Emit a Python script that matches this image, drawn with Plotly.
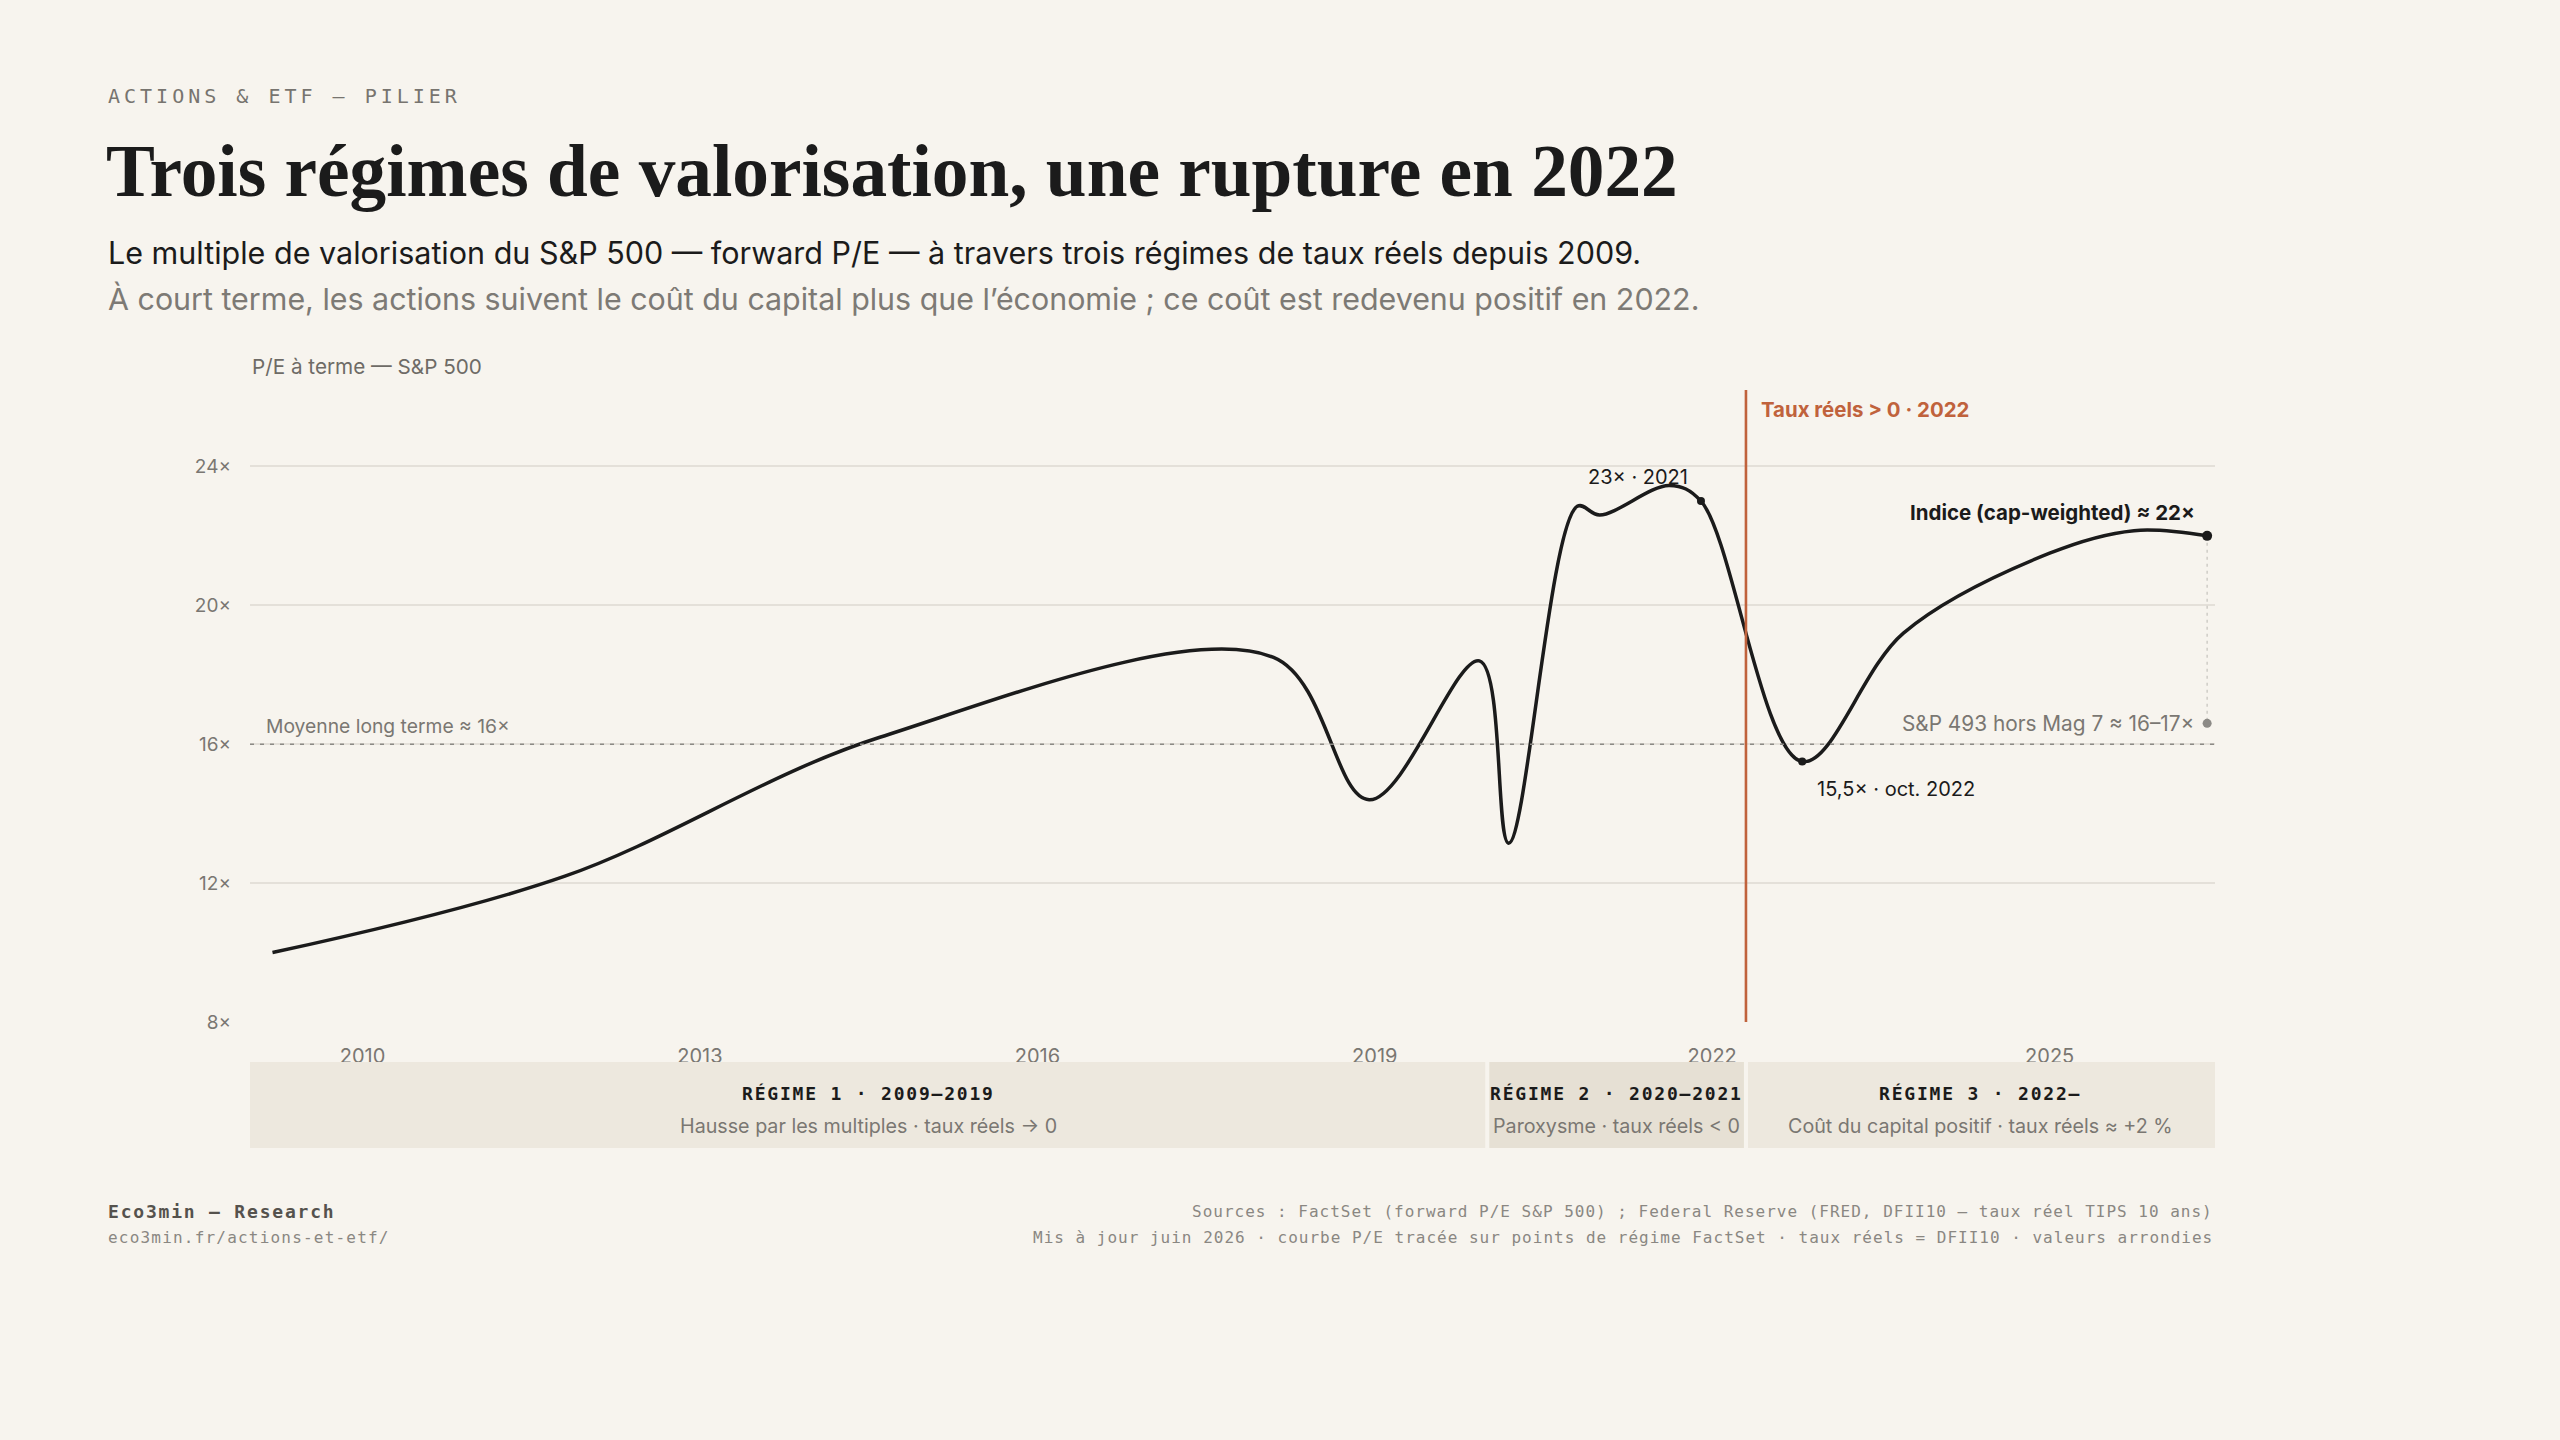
import plotly.graph_objects as go

# ---------------- data ----------------
years = [2009.2, 2011.8, 2014.6, 2018.1, 2018.95, 2019.93, 2020.19, 2020.8, 2021.0,
         2021.62, 2021.9, 2022.8, 2023.7, 2025.0, 2025.75, 2026.4]
pe = [10.0, 12.2, 16.2, 18.5, 14.4, 18.4, 13.15, 22.85, 22.6,
      23.45, 23.0, 15.5, 19.2, 21.5, 22.15, 22.0]

peak_point = (2021.9, 23.0)
trough_point = (2022.8, 15.5)
last_point = (2026.4, 22.0)
ex_mag7_point = (2026.4, 16.6)
long_term_mean = 16.0
real_rate_turn = 2022.3

regime_bounds = [2009.0, 2020.0, 2022.3, 2026.47]
regime_titles = ["RÉGIME 1 · 2009–2019", "RÉGIME 2 · 2020–2021", "RÉGIME 3 · 2022–"]
regime_subs = ["Hausse par les multiples · taux réels → 0",
               "Paroxysme · taux réels < 0",
               "Coût du capital positif · taux réels ≈ +2 %"]

x_ticks = [2010, 2013, 2016, 2019, 2022, 2025]
y_ticks = [8, 12, 16, 20, 24]

# ---------------- style ----------------
W, H = 2560, 1440
ML, MR, MT, MB = 250, 345, 390, 418
PW, PH = W - ML - MR, H - MT - MB
BG = "#f7f4ee"
INK = "#1b1b1b"
GREY = "#7a7772"
RUST = "#c0623c"
SANS = "Inter, 'Noto Sans', sans-serif"
MONO = "'DejaVu Sans Mono', monospace"
SERIF = "'Liberation Serif', 'DejaVu Serif', serif"


def px(x):
    return (x - ML) / PW


def py(y):
    return (H - MB - y) / PH


fig = go.Figure()

# main curve
fig.add_trace(go.Scatter(x=years, y=pe, mode="lines",
                         line=dict(color=INK, width=3.5, shape="spline", smoothing=1.0),
                         hoverinfo="skip"))
# long-term mean
fig.add_trace(go.Scatter(x=[regime_bounds[0], regime_bounds[-1]], y=[long_term_mean] * 2,
                         mode="lines", line=dict(color="#8c8a86", width=1.5, dash="4px,6px"),
                         hoverinfo="skip"))
# connector index -> ex mag7
fig.add_trace(go.Scatter(x=[last_point[0], ex_mag7_point[0]], y=[last_point[1], ex_mag7_point[1]],
                         mode="lines", line=dict(color="#c9c6c0", width=1.3, dash="3px,4px"),
                         hoverinfo="skip"))
# markers
fig.add_trace(go.Scatter(x=[peak_point[0], trough_point[0]], y=[peak_point[1], trough_point[1]],
                         mode="markers", marker=dict(color=INK, size=8), hoverinfo="skip"))
fig.add_trace(go.Scatter(x=[last_point[0]], y=[last_point[1]], mode="markers",
                         marker=dict(color=INK, size=10), hoverinfo="skip"))
fig.add_trace(go.Scatter(x=[ex_mag7_point[0]], y=[ex_mag7_point[1]], mode="markers",
                         marker=dict(color="#8c8a86", size=9), hoverinfo="skip"))

shapes = []
# vertical rust line
shapes.append(dict(type="line", xref="x", yref="paper", x0=real_rate_turn, x1=real_rate_turn,
                   y0=0, y1=1, line=dict(color=RUST, width=2.6), layer="above"))
# regime band
band_top = py(1062)
band_bot = py(1148)
gap = 0.018
fills = ["#ede8de", "#e6e0d4", "#ede8de"]
for i in range(3):
    x0 = regime_bounds[i] + (gap if i > 0 else 0)
    x1 = regime_bounds[i + 1] - (gap if i < 2 else 0)
    shapes.append(dict(type="rect", xref="x", yref="paper", x0=x0, x1=x1, y0=band_bot, y1=band_top,
                       fillcolor=fills[i], line=dict(width=0), layer="above"))

ann = []


def text(x, y, s, size, color, family=SANS, xanchor="left", yanchor="middle", xref="paper",
         yref="paper", xshift=0, yshift=0):
    ann.append(dict(x=x, y=y, xref=xref, yref=yref, text=s, showarrow=False,
                    font=dict(size=size, color=color, family=family),
                    xanchor=xanchor, yanchor=yanchor, xshift=xshift, yshift=yshift))


# header
text(px(106), py(96), '<span style="letter-spacing:4px">ACTIONS &amp; ETF — PILIER</span>', 20, "#77746f", MONO)
text(px(104), py(172), "<b>Trois régimes de valorisation, une rupture en 2022</b>", 73.3, INK, SERIF)
text(px(106), py(253), "Le multiple de valorisation du S&amp;P 500 — forward P/E — à travers trois régimes de taux réels depuis 2009.", 30.5, INK)
text(px(106), py(299), "À court terme, les actions suivent le coût du capital plus que l’économie ; ce coût est redevenu positif en 2022.", 30.4, "#7d7a75")
text(px(250), py(366), "P/E à terme — S&amp;P 500", 20.7, "#6e6b66")

# in-chart annotations
text(px(264), py(726), "Moyenne long terme ≈ 16×", 19.3, GREY)
text(real_rate_turn, py(409), "<b style='font-weight:600'>Taux réels &gt; 0 · 2022</b>", 20.4, RUST, xref="x", xshift=13)
text(peak_point[0], peak_point[1], "23× · 2021", 20, INK, xanchor="center", xref="x", yref="y",
     xshift=-63, yshift=24)
text(trough_point[0], trough_point[1], "15,5× · oct. 2022", 20, INK, xref="x", yref="y",
     xshift=13, yshift=-27)
text(last_point[0], last_point[1], "<b>Indice (cap-weighted) ≈ 22×</b>", 20.5, INK, xanchor="right",
     xref="x", yref="y", xshift=-10, yshift=23)
text(ex_mag7_point[0], ex_mag7_point[1], "S&amp;P 493 hors Mag 7 ≈ 16–17×", 20.8, GREY, xanchor="right",
     xref="x", yref="y", xshift=-11, yshift=0)

# regime labels
for i in range(3):
    cx = (regime_bounds[i] + regime_bounds[i + 1]) / 2
    text(cx, py(1093), f'<b><span style="letter-spacing:1.8px">{regime_titles[i]}</span></b>', 18, INK, MONO,
         xanchor="center", xref="x")
    text(cx, py(1126), regime_subs[i], 19.7, GREY, xanchor="center", xref="x")

# footer
text(px(106), py(1211), '<b><span style="letter-spacing:1.8px">Eco3min — Research</span></b>', 18, "#55524d", MONO)
text(px(106), py(1237), '<span style="letter-spacing:1.2px">eco3min.fr/actions-et-etf/</span>', 16, "#8a8782", MONO)
text(px(2215), py(1211), '<span style="letter-spacing:1px">Sources : FactSet (forward P/E S&amp;P 500) ; Federal Reserve (FRED, DFII10 — taux réel TIPS 10 ans)</span>', 16, "#8a8782", MONO, xanchor="right")
text(px(2215), py(1237), '<span style="letter-spacing:1px">Mis à jour juin 2026 · courbe P/E tracée sur points de régime FactSet · taux réels = DFII10 · valeurs arrondies</span>', 16, "#8a8782", MONO, xanchor="right")

fig.update_layout(
    width=W, height=H, margin=dict(l=ML, r=MR, t=MT, b=MB, autoexpand=False),
    paper_bgcolor=BG, plot_bgcolor=BG, showlegend=False,
    shapes=shapes, annotations=ann,
    xaxis=dict(range=[regime_bounds[0], regime_bounds[-1]], tickvals=x_ticks,
               ticktext=[str(t) for t in x_ticks], showgrid=False, zeroline=False,
               showline=False, ticks="", tickfont=dict(family=SANS, size=20, color=GREY),
               ticklabelstandoff=20),
    yaxis=dict(range=[8, 26.2], tickvals=y_ticks, ticktext=[f"{v}×" for v in y_ticks],
               showgrid=True, gridcolor="#e4e0d9", gridwidth=1.5, zeroline=False, showline=False,
               ticks="", tickfont=dict(family=SANS, size=19, color=GREY), ticklabelstandoff=18),
)

fig.write_html("out.html", config={"displayModeBar": False},
               post_script="document.body.style.margin='0';document.body.style.background='#f7f4ee';")
